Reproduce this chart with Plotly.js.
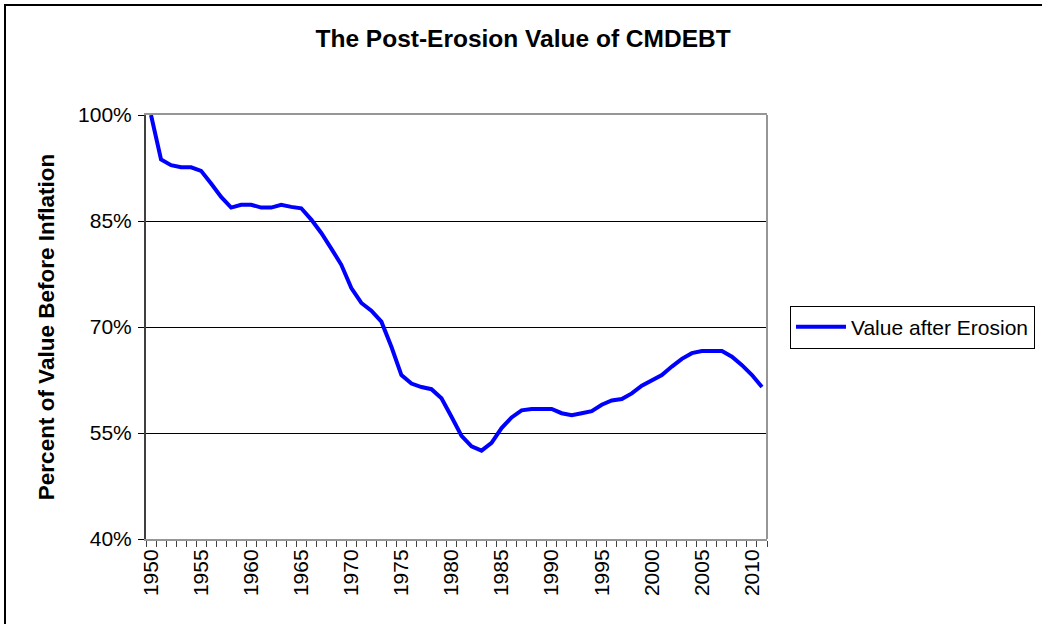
<!DOCTYPE html>
<html>
<head>
<meta charset="utf-8">
<script src="https://cdn.plot.ly/plotly-3.0.1.min.js"></script>
<style>
  html, body { margin: 0; padding: 0; overflow: hidden; background: #fff; }
  #chart { width: 1042px; height: 624px; position: relative; }
  #frame { position: absolute; left: 4px; top: 4px; width: 1200px; height: 800px;
           border-left: 2px solid #000; border-top: 2px solid #000; pointer-events: none; }
</style>
</head>
<body>
<div id="chart"></div>
<div id="frame"></div>
<script>
const years = [1950,1951,1952,1953,1954,1955,1956,1957,1958,1959,
               1960,1961,1962,1963,1964,1965,1966,1967,1968,1969,
               1970,1971,1972,1973,1974,1975,1976,1977,1978,1979,
               1980,1981,1982,1983,1984,1985,1986,1987,1988,1989,
               1990,1991,1992,1993,1994,1995,1996,1997,1998,1999,
               2000,2001,2002,2003,2004,2005,2006,2007,2008,2009,
               2010,2011];
const valueAfterErosion = [100,93.7,92.9,92.6,92.6,92.1,90.3,88.4,86.9,87.3,
                           87.3,86.9,86.9,87.3,87.0,86.8,85.2,83.3,81.1,78.8,
                           75.5,73.4,72.3,70.75,67.2,63.2,62.0,61.5,61.2,59.9,
                           57.3,54.6,53.1,52.5,53.6,55.7,57.2,58.2,58.4,58.4,
                           58.4,57.8,57.5,57.8,58.1,59.0,59.6,59.8,60.6,61.7,
                           62.4,63.2,64.4,65.5,66.3,66.6,66.6,66.6,65.8,64.6,
                           63.2,61.5];
const xTickVals = [1950,1955,1960,1965,1970,1975,1980,1985,1990,1995,2000,2005,2010];
const xTickText = ['1950','1955','1960','1965','1970','1975','1980','1985','1990','1995','2000','2005','2010'];
const yTickVals = [40,55,70,85,100];
const yTickText = ['40%','55%','70%','85%','100%'];

const FONT = 'Liberation Sans, Arial, sans-serif';

const trace = {
  x: years,
  y: valueAfterErosion,
  type: 'scatter',
  mode: 'lines',
  name: 'Value after Erosion',
  line: { color: '#0000FF', width: 4 },
  hoverinfo: 'skip'
};

const layout = {
  width: 1042,
  height: 624,
  margin: { l: 146, r: 275, t: 115, b: 85, autoexpand: false },
  paper_bgcolor: '#ffffff',
  plot_bgcolor: '#ffffff',
  font: { family: FONT, color: '#000', size: 20 },
  title: {
    text: '<b>The Post-Erosion Value of CMDEBT</b>',
    font: { family: FONT, size: 24.5, color: '#000' },
    xref: 'container',
    x: 0.502, xanchor: 'center',
    y: 1 - 38/624, yanchor: 'middle'
  },
  showlegend: true,
  legend: {
    x: 1.037, xanchor: 'left',
    y: 0.5, yanchor: 'middle',
    bordercolor: '#000', borderwidth: 1, bgcolor: '#fff',
    itemwidth: 50,
    font: { family: FONT, size: 21, color: '#000' }
  },
  xaxis: {
    type: 'linear',
    range: [1949.5, 2011.5],
    tickmode: 'array',
    tickvals: xTickVals,
    ticktext: xTickText,
    tickangle: -90,
    ticks: '',
    ticklen: 0,
    tickfont: { family: FONT, size: 21, color: '#000' },
    showgrid: false,
    zeroline: false,
    showline: true,
    linecolor: '#969696',
    linewidth: 2,
    mirror: true,
    minor: { tick0: 1949.5, dtick: 1, tickmode: 'linear', ticks: 'outside', ticklen: 6, tickcolor: '#404040', tickwidth: 1, showgrid: false },
    fixedrange: true
  },
  yaxis: {
    range: [40, 100],
    tickmode: 'array',
    tickvals: yTickVals,
    ticktext: yTickText,
    ticks: 'outside',
    ticklen: 6,
    tickcolor: '#000',
    tickwidth: 1,
    ticklabelstandoff: 2,
    tickfont: { family: FONT, size: 21, color: '#000' },
    showgrid: true,
    gridcolor: '#000',
    gridwidth: 1,
    zeroline: false,
    showline: true,
    linecolor: '#404040',
    linewidth: 2,
    mirror: false,
    title: {
      text: '<b>Percent of Value Before Inflation</b>',
      font: { family: FONT, size: 22.5, color: '#000' },
      standoff: 17
    },
    fixedrange: true
  },
  shapes: [
    { type: 'line', xref: 'paper', yref: 'paper', x0: 1, x1: 1, y0: 0, y1: 1,
      line: { color: '#969696', width: 2 } }
  ]
};

Plotly.newPlot('chart', [trace], layout, { displayModeBar: false, staticPlot: true });
</script>
</body>
</html>
